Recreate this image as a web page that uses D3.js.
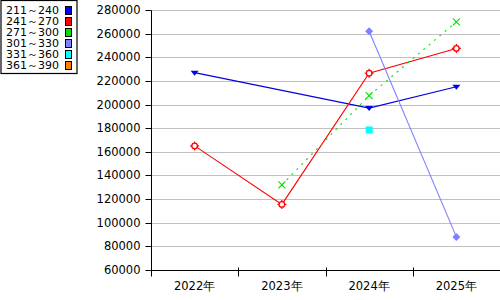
<!DOCTYPE html>
<html>
<head>
<meta charset="utf-8">
<script src="https://cdn.jsdelivr.net/npm/d3@7"></script>
<style>
  body { margin: 0; background: #fff; }
  svg { display: block; font-family: "DejaVu Sans", sans-serif; }
</style>
</head>
<body>
<script>
// categories / series
var years = ["2022年", "2023年", "2024年", "2025年"];
var seriesNames = ["211～240", "241～270", "271～300", "301～330", "331～360", "361～390"];
var seriesColors = ["#0000e0", "#ff0000", "#00e000", "#8080ff", "#00ffff", "#ff8000"];
var seriesShapes = ["tri", "gear", "cross", "diamond", "square", "none"];

var s211 = [227000, null, 197000, 215000];
var s241 = [165000, 115500, 226500, 247500];
var s271 = [null, 132000, 207500, 270000];
var s301 = [null, null, 262000, 88000];
var s331 = [null, null, 178500, null];
var s361 = [null, null, null, null];
var allSeries = [s211, s241, s271, s301, s331, s361];

var yTicks = [60000, 80000, 100000, 120000, 140000, 160000, 180000, 200000, 220000, 240000, 260000, 280000];

var width = 500, height = 300;
var plotLeft = 151, plotRight = 500, plotTop = 10, plotBottom = 270;

var svg = d3.select("body").append("svg")
    .attr("width", width)
    .attr("height", height);

var x = d3.scaleBand().domain(years).range([plotLeft, plotRight]);
var y = d3.scaleLinear().domain([60000, 280000]).range([plotBottom, plotTop]);

// grid lines
svg.append("g")
  .selectAll("line")
  .data(yTicks.slice(1))
  .enter().append("line")
    .attr("x1", plotLeft).attr("x2", plotRight)
    .attr("y1", function(d) { return Math.round(y(d)) + 0.5; })
    .attr("y2", function(d) { return Math.round(y(d)) + 0.5; })
    .style("stroke", "#c0c0c0")
    .style("stroke-width", 1);

// y axis
var yAxis = svg.append("g")
    .attr("transform", "translate(" + (plotLeft + 0.5) + ",0.5)")
    .call(d3.axisLeft(y).tickValues(yTicks).tickSize(6).tickPadding(5).tickFormat(d3.format("d")));
yAxis.select(".domain").attr("d", "M0," + Math.round(y(280000)) + "V" + Math.round(y(60000)));
yAxis.selectAll(".tick").attr("transform", function(d) { return "translate(0," + Math.round(y(d)) + ")"; });
yAxis.selectAll("text").style("font-size", "11.5px").style("font-family", "DejaVu Sans, sans-serif").attr("fill", "#000");
yAxis.selectAll("line, path").style("stroke", "#000");

// x axis
var xAxis = svg.append("g")
    .attr("transform", "translate(0," + (plotBottom + 0.5) + ")")
    .call(d3.axisBottom(x).tickSize(0).tickPadding(11));
xAxis.select(".domain").attr("d", "M" + plotLeft + ",0H" + plotRight);
xAxis.selectAll("text").style("font-size", "11.5px").style("font-family", "DejaVu Sans, sans-serif").attr("fill", "#000");
xAxis.selectAll("path").style("stroke", "#000");
// separators between years
xAxis.selectAll(".sep")
  .data(years)
  .enter().append("line")
    .attr("x1", function(d) { return Math.round(x(d)) + 0.5; })
    .attr("x2", function(d) { return Math.round(x(d)) + 0.5; })
    .attr("y1", -3).attr("y2", 6)
    .style("stroke", "#000");

function cx(i) { return x(years[i]) + x.bandwidth() / 2; }

// lines (skip missing years)
allSeries.forEach(function(vals, k) {
  var pts = vals.map(function(v, i) { return v == null ? null : { i: i, v: v }; }).filter(function(p) { return p; });
  if (pts.length > 1) {
    svg.append("path")
      .datum(pts)
      .attr("d", d3.line().x(function(p) { return cx(p.i); }).y(function(p) { return y(p.v); }))
      .style("fill", "none")
      .style("stroke", seriesColors[k])
      .style("stroke-width", 1.1)
      .style("stroke-dasharray", k == 2 ? "2,5" : null);
  }
});

// markers
allSeries.forEach(function(vals, k) {
  var g = svg.append("g");
  vals.forEach(function(v, i) {
    if (v == null) return;
    var px = cx(i), py = y(v), c = seriesColors[k];
    var shape = seriesShapes[k];
    if (shape == "tri") {
      g.append("path").attr("d", "M" + (px - 4) + "," + (py - 2) + "L" + (px + 4) + "," + (py - 2) + "L" + px + "," + (py + 3) + "Z").style("fill", c);
    } else if (shape == "gear") {
      g.append("path").attr("d", "M" + (px - 4.5) + "," + py + "H" + (px + 4.5) + "M" + px + "," + (py - 4.5) + "V" + (py + 4.5)).style("stroke", c).style("stroke-width", 1.2);
      g.append("circle").attr("cx", px).attr("cy", py).attr("r", 2.8).style("fill", "#fff").style("stroke", c).style("stroke-width", 1.3);
    } else if (shape == "cross") {
      g.append("path").attr("d", "M" + (px - 3.5) + "," + (py - 3.5) + "L" + (px + 3.5) + "," + (py + 3.5) + "M" + (px - 3.5) + "," + (py + 3.5) + "L" + (px + 3.5) + "," + (py - 3.5)).style("stroke", c).style("stroke-width", 1.1);
    } else if (shape == "diamond") {
      g.append("path").attr("d", "M" + px + "," + (py - 4) + "L" + (px + 4) + "," + py + "L" + px + "," + (py + 4) + "L" + (px - 4) + "," + py + "Z").style("fill", c);
    } else if (shape == "square") {
      g.append("rect").attr("x", px - 3.5).attr("y", py - 3.5).attr("width", 7).attr("height", 7).style("fill", c);
    }
  });
});

// legend
var legend = svg.append("g");
legend.append("rect")
    .attr("x", 1).attr("y", 0.5).attr("width", 76).attr("height", 73)
    .style("fill", "#fff").style("stroke", "#000").style("stroke-width", 1.2);
seriesNames.forEach(function(name, k) {
  legend.append("text")
    .attr("x", 6).attr("y", 13.5 + k * 11)
    .style("font-size", "11px")
    .text(name);
  legend.append("rect")
    .attr("x", 65.5).attr("y", 6.5 + k * 11).attr("width", 6).attr("height", 8)
    .style("fill", seriesColors[k]).style("stroke", "#000").style("stroke-width", 1);
});
</script>
</body>
</html>
